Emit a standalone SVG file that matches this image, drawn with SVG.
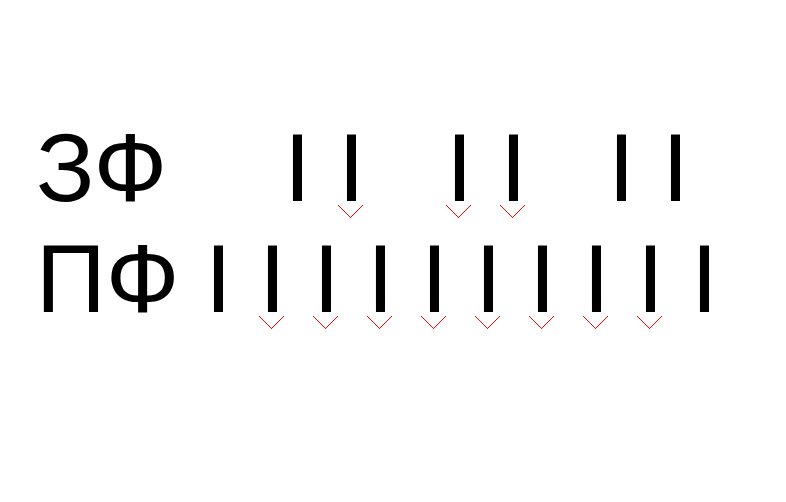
<svg xmlns="http://www.w3.org/2000/svg" width="786" height="502" viewBox="0 0 786 502">
<style>
.t{font-family:"Liberation Sans",Arial,sans-serif;font-size:97px;fill:#000}
.b{font-family:"Liberation Sans",Arial,sans-serif;font-size:97px;fill:#000;text-anchor:middle}
.c{fill:none;stroke:#ff0000;stroke-width:1;shape-rendering:crispEdges}
</style>
<rect width="786" height="502" fill="#fff"/>
<g id="row-zf">
<text class="t" x="36" y="201">ЗФ</text>
<text class="b" x="297.5" y="201">I</text>
<text class="b" x="351.5" y="201">I</text>
<text class="b" x="459.5" y="201">I</text>
<text class="b" x="513.5" y="201">I</text>
<text class="b" x="621.5" y="201">I</text>
<text class="b" x="675.5" y="201">I</text>
</g>
<g id="row-pf">
<text class="t" x="36" y="312">ПФ</text>
<text class="b" x="218.5" y="312">I</text>
<text class="b" x="272.5" y="312">I</text>
<text class="b" x="326.5" y="312">I</text>
<text class="b" x="380.5" y="312">I</text>
<text class="b" x="434.5" y="312">I</text>
<text class="b" x="488.5" y="312">I</text>
<text class="b" x="542.5" y="312">I</text>
<text class="b" x="596.5" y="312">I</text>
<text class="b" x="650.5" y="312">I</text>
<text class="b" x="704.5" y="312">I</text>
</g>
<g id="connectors">
<polyline class="c" points="337.8,205 350.3,217.5 362.8,205"/>
<polyline class="c" points="445.8,205 458.3,217.5 470.8,205"/>
<polyline class="c" points="499.8,205 512.3,217.5 524.8,205"/>
<polyline class="c" points="258.8,316 271.3,328.5 283.8,316"/>
<polyline class="c" points="312.8,316 325.3,328.5 337.8,316"/>
<polyline class="c" points="366.8,316 379.3,328.5 391.8,316"/>
<polyline class="c" points="420.8,316 433.3,328.5 445.8,316"/>
<polyline class="c" points="474.8,316 487.3,328.5 499.8,316"/>
<polyline class="c" points="528.8,316 541.3,328.5 553.8,316"/>
<polyline class="c" points="582.8,316 595.3,328.5 607.8,316"/>
<polyline class="c" points="636.8,316 649.3,328.5 661.8,316"/>
</g>
</svg>
